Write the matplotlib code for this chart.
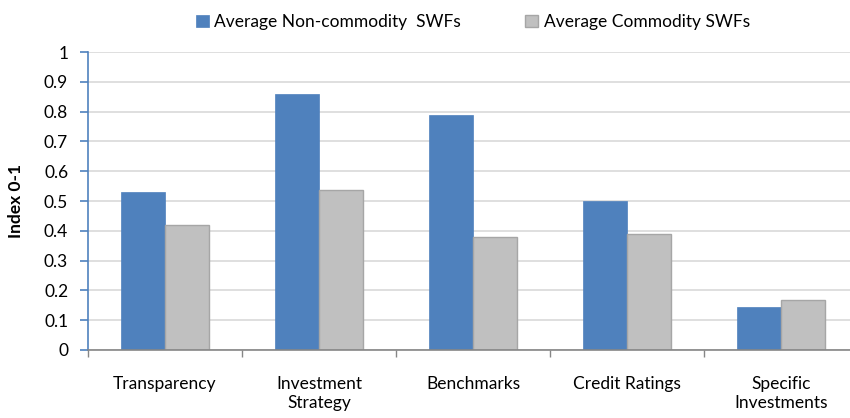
import matplotlib
matplotlib.use("Agg")
import matplotlib.pyplot as plt
import numpy as np

plt.rcParams['font.family'] = ['Lato', 'DejaVu Sans']

categories = ["Transparency", "Investment\nStrategy", "Benchmarks", "Credit Ratings", "Specific\nInvestments"]
non_commodity = [0.53, 0.86, 0.79, 0.50, 0.145]
commodity = [0.42, 0.537, 0.38, 0.39, 0.168]
series_names = ["Average Non-commodity  SWFs", "Average Commodity SWFs"]
yticks = [0, 0.1, 0.2, 0.3, 0.4, 0.5, 0.6, 0.7, 0.8, 0.9, 1]
ytick_labels = ["0", "0.1", "0.2", "0.3", "0.4", "0.5", "0.6", "0.7", "0.8", "0.9", "1"]

fig = plt.figure(figsize=(8.5, 4.18), dpi=100)
ax = fig.add_axes([88/850, 1-350/418, 770/850, 298/418])

x = np.arange(len(categories))
w = 0.285
b1 = ax.bar(x - w/2, non_commodity, w, color="#4F81BD", edgecolor="#4F81BD", linewidth=0.5, label=series_names[0], zorder=3)
b2 = ax.bar(x + w/2, commodity, w, color="#C0C0C0", edgecolor="#A6A6A6", linewidth=1.0, label=series_names[1], zorder=3)

ax.set_xlim(-0.5, len(categories) - 0.5)
ax.set_ylim(0, 1)
ax.set_yticks(yticks)
ax.set_yticklabels(ytick_labels, fontsize=12.5)
ax.yaxis.grid(True, color="#D9D9D9", linewidth=1.2, zorder=0)
ax.set_axisbelow(True)

ax.set_xticks(x)
ax.set_xticklabels(categories, fontsize=12.5, linespacing=1.2, va="top")
ax.tick_params(axis="x", length=0, pad=19)
ax.set_xticks(np.arange(len(categories)+1) - 0.5, minor=True)
ax.tick_params(axis="x", which="minor", length=5, color="#868686", width=1)
ax.tick_params(axis="y", length=5.8, color="#4F81BD", width=1.2, pad=8.5)

for s in ["top", "right"]:
    ax.spines[s].set_visible(False)
ax.spines["left"].set_color("#4F81BD")
ax.spines["left"].set_linewidth(1.2)
ax.spines["bottom"].set_color("#868686")
ax.spines["bottom"].set_linewidth(1.2)
ax.spines["bottom"].set_zorder(4)

ax.set_ylabel("Index 0-1", fontsize=12.5, fontweight="bold", labelpad=14)

fig.legend(handles=[b1, b2], labels=series_names, loc="center", bbox_to_anchor=(473/850, 1-22/418),
           ncol=2, frameon=False, fontsize=12.5, handlelength=0.75, handleheight=0.75,
           handletextpad=0.3, columnspacing=3.7)

fig.savefig("out.png", dpi=100)
